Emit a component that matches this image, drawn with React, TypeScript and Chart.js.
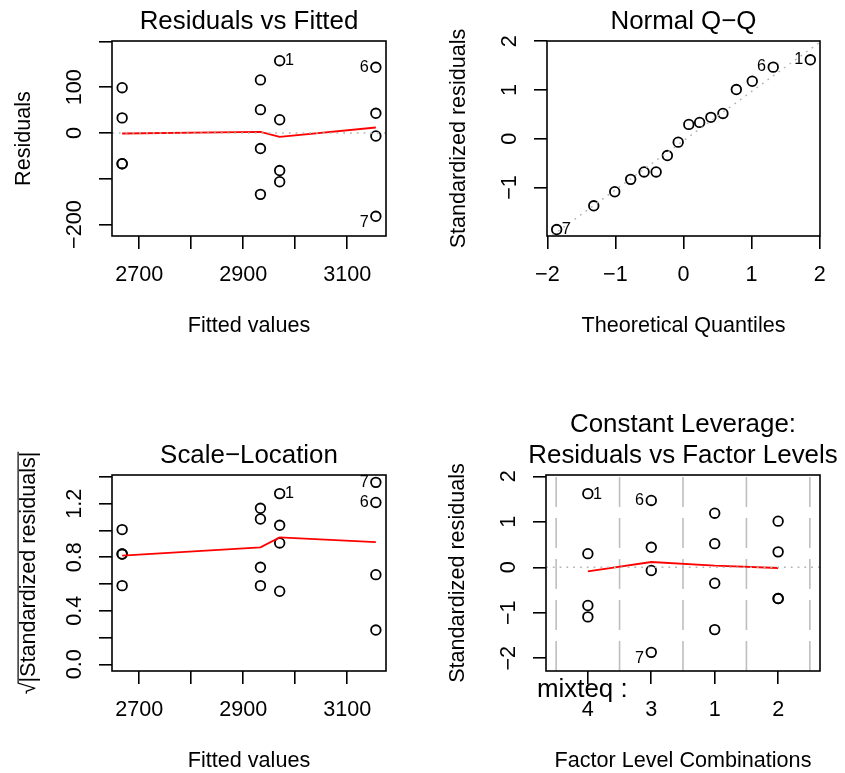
import React, { useEffect, useRef } from "react";
import { Chart, registerables } from "chart.js";

Chart.register(...registerables);

const FONT = "'Liberation Sans', Arial, Helvetica, sans-serif";
const AXIS_PX = 21.6;
const TITLE_PX = 25.9;
const ID_PX = 16.2;
const M = "\u2212";

// ---------------- data ----------------
// 16 observations, 4 per level of the factor "mixteq"
const fittedValues = [2970, 2970, 2970, 2970, 3155, 3155, 3155, 3155, 2933, 2933, 2933, 2933, 2667, 2667, 2667, 2667];
const residuals = [158, 29, -82, -106.5, 143.5, 43, -6.5, -182, 116, 51, -34, -134, 99, 33, -67, -67];
const stdResiduals = [1.62, 0.3, -0.84, -1.09, 1.47, 0.44, -0.07, -1.87, 1.19, 0.52, -0.35, -1.37, 1.015, 0.34, -0.687, -0.687];
const sqrtAbsStdResiduals = [1.276, 0.546, 0.907, 1.039, 1.21, 0.67, 0.256, 1.36, 1.086, 0.725, 0.588, 1.166, 1.007, 0.588, 0.824, 0.824];
const factorPosition = [0, 0, 0, 0, 1, 1, 1, 1, 2, 2, 2, 2, 3, 3, 3, 3];
const obsLabels = ["1", "", "", "", "6", "", "", "7", "", "", "", "", "", "", "", ""];

const factorLevels = ["4", "3", "1", "2"];
const levelBoundaries = [-0.5, 0.5, 1.5, 2.5, 3.5];

const qqTheoretical = [-1.863, -1.318, -1.01, -0.776, -0.579, -0.402, -0.237, -0.078, 0.078, 0.237, 0.402, 0.579, 0.776, 1.01, 1.318, 1.863];
const qqSample = [-1.862, -1.375, -1.086, -0.832, -0.68, -0.68, -0.344, -0.069, 0.295, 0.336, 0.44, 0.52, 1.01, 1.18, 1.47, 1.62];
const qqLabels = ["7", "", "", "", "", "", "", "", "", "", "", "", "", "", "6", "1"];
const qqLineX = [-2.005, 2.01];
const qqLineY = [-2.06, 1.989];

const smoothX = [2667, 2933, 2970, 3155];
const residSmoothY = [-1.1, 2.6, -8.3, 12.0];
const scaleSmoothY = [0.812, 0.874, 0.949, 0.914];
const factorSmoothX = [0, 1, 2, 3];
const factorSmoothY = [-0.088, 0.117, 0.035, -0.015];

const fittedTicks = [2700, 2800, 2900, 3000, 3100];
const fittedTickLabels = ["2700", "", "2900", "", "3100"];
const residTicks = [-200, -100, 0, 100, 200];
const residTickLabels = [M + "200", "", "0", "100", ""];
const qqXTicks = [-2, -1, 0, 1, 2];
const qqXTickLabels = [M + "2", M + "1", "0", "1", "2"];
const qqYTicks = [-1, 0, 1, 2];
const qqYTickLabels = [M + "1", "0", "1", "2"];
const slTicks = [0, 0.2, 0.4, 0.6, 0.8, 1.0, 1.2, 1.4];
const slTickLabels = ["0.0", "", "0.4", "", "0.8", "", "1.2", ""];
const flYTicks = [-2, -1, 0, 1, 2];
const flYTickLabels = [M + "2", M + "1", "0", "1", "2"];
const flXTicks = [0, 1, 2, 3];

// ---------------- panel construction ----------------
type LabelStyle = { [k: string]: { side: "left" | "right"; dy: number } };

type Panel = {
  left: number; top: number; w: number; h: number;
  box: [number, number, number, number];
  xMin: number; xMax: number; yMin: number; yMax: number;
  xTicks: number[]; xTickLabels: string[];
  yTicks: number[]; yTickLabels: string[];
  title: string[]; xTitle: string; yTitle: string; sqrtTitle?: boolean;
  datasets: any[];
  pointsIndex: number;
  labels: string[];
  labelStyle: LabelStyle;
  factorName?: string;
};

const pts = (xs: number[], ys: number[]) => xs.map((x, i) => ({ x, y: ys[i] }));

const pointsDs = (xs: number[], ys: number[]) => ({
  data: pts(xs, ys),
  showLine: false,
  pointStyle: "circle",
  pointRadius: 4.8,
  pointHoverRadius: 4.8,
  pointBorderWidth: 1.8,
  pointBorderColor: "#000",
  pointBackgroundColor: "rgba(0,0,0,0)",
});
const redDs = (xs: number[], ys: number[]) => ({
  data: pts(xs, ys),
  showLine: true,
  borderColor: "#ff0000",
  borderWidth: 1.8,
  pointRadius: 0,
  tension: 0,
  fill: false,
});
const dottedDs = (xs: number[], ys: number[]) => ({
  data: pts(xs, ys),
  showLine: true,
  borderColor: "#b4b4b4",
  borderWidth: 1.4,
  borderDash: [1.8, 5],
  pointRadius: 0,
  tension: 0,
  fill: false,
});
const vDashDs = (x: number, y0: number, y1: number) => ({
  data: [{ x, y: y0 }, { x, y: y1 }],
  showLine: true,
  borderColor: "#bebebe",
  borderWidth: 1.6,
  borderDash: [30, 11],
  pointRadius: 0,
  tension: 0,
  fill: false,
});

const P1: Panel = {
  left: 0, top: 0, w: 422, h: 386,
  box: [112, 41, 386, 236],
  xMin: 2647.5, xMax: 3174.5, yMin: -225, yMax: 201,
  xTicks: fittedTicks, xTickLabels: fittedTickLabels,
  yTicks: residTicks, yTickLabels: residTickLabels,
  title: ["Residuals vs Fitted"], xTitle: "Fitted values", yTitle: "Residuals",
  datasets: [
    dottedDs([2647.5, 3174.5], [0, 0]),
    redDs(smoothX, residSmoothY),
    pointsDs(fittedValues, residuals),
  ],
  pointsIndex: 2,
  labels: obsLabels,
  labelStyle: { "1": { side: "right", dy: -1 }, "6": { side: "left", dy: -1 }, "7": { side: "left", dy: 5 } },
};

const P2: Panel = {
  left: 422, top: 0, w: 423, h: 386,
  box: [125, 41, 398, 236],
  xMin: -2.005, xMax: 2.005, yMin: -1.994, yMax: 2.006,
  xTicks: qqXTicks, xTickLabels: qqXTickLabels,
  yTicks: qqYTicks, yTickLabels: qqYTickLabels,
  title: ["Normal Q" + M + "Q"], xTitle: "Theoretical Quantiles", yTitle: "Standardized residuals",
  datasets: [
    dottedDs(qqLineX, qqLineY),
    pointsDs(qqTheoretical, qqSample),
  ],
  pointsIndex: 1,
  labels: qqLabels,
  labelStyle: { "7": { side: "right", dy: -1.6 }, "6": { side: "left", dy: -2 }, "1": { side: "left", dy: -1.3 } },
};

const P3: Panel = {
  left: 0, top: 386, w: 422, h: 387,
  box: [112, 89, 386, 285],
  xMin: 2647.5, xMax: 3174.5, yMin: -0.05, yMax: 1.415,
  xTicks: fittedTicks, xTickLabels: fittedTickLabels,
  yTicks: slTicks, yTickLabels: slTickLabels,
  title: ["Scale" + M + "Location"], xTitle: "Fitted values", yTitle: "|Standardized residuals|", sqrtTitle: true,
  datasets: [
    redDs(smoothX, scaleSmoothY),
    pointsDs(fittedValues, sqrtAbsStdResiduals),
  ],
  pointsIndex: 1,
  labels: obsLabels,
  labelStyle: { "1": { side: "right", dy: -1 }, "7": { side: "left", dy: -1 }, "6": { side: "left", dy: -1.3 } },
};

const P4: Panel = {
  left: 422, top: 386, w: 423, h: 387,
  box: [124, 89, 398, 285],
  xMin: -0.66, xMax: 3.66, yMin: -2.28, yMax: 2.03,
  xTicks: flXTicks, xTickLabels: factorLevels,
  yTicks: flYTicks, yTickLabels: flYTickLabels,
  title: ["Constant Leverage:", "Residuals vs Factor Levels"], xTitle: "Factor Level Combinations", yTitle: "Standardized residuals",
  datasets: [
    dottedDs([-0.66, 3.66], [0, 0]),
    redDs(factorSmoothX, factorSmoothY),
    ...levelBoundaries.map((b) => vDashDs(b, -2.28, 2.03)),
    pointsDs(factorPosition, stdResiduals),
  ],
  pointsIndex: 2 + levelBoundaries.length,
  labels: obsLabels,
  labelStyle: { "1": { side: "right", dy: -0.4 }, "6": { side: "left", dy: -1.3 }, "7": { side: "left", dy: 5 } },
  factorName: "mixteq :",
};

const panels = [P1, P2, P3, P4];

function makeDecor(p: Panel) {
  return {
    id: "decor",
    afterDraw(chart: any) {
      const ctx = chart.ctx as CanvasRenderingContext2D;
      const a = chart.chartArea;
      const ys = chart.scales.y;
      const cx = (a.left + a.right) / 2;
      const cy = (a.top + a.bottom) / 2;
      ctx.save();
      // plot box
      ctx.strokeStyle = "#000";
      ctx.lineWidth = 1.6;
      ctx.strokeRect(a.left, a.top, a.right - a.left, a.bottom - a.top);
      ctx.fillStyle = "#000";
      // caption
      ctx.font = `${TITLE_PX}px ${FONT}`;
      ctx.textAlign = "center";
      ctx.textBaseline = "alphabetic";
      const n = p.title.length;
      p.title.forEach((line, i) => {
        ctx.fillText(line, cx, a.top - 12.3 - (n - 1 - i) * 30.4);
      });
      // x title
      ctx.font = `${AXIS_PX}px ${FONT}`;
      ctx.fillText(p.xTitle, cx, a.bottom + 96);
      // y tick labels (rotated, R style)
      p.yTicks.forEach((v, i) => {
        const lab = p.yTickLabels[i];
        if (!lab) return;
        const py = ys.getPixelForValue(v);
        ctx.save();
        ctx.translate(a.left - 31, py);
        ctx.rotate(-Math.PI / 2);
        ctx.textAlign = "center";
        ctx.fillText(lab, 0, 0);
        ctx.restore();
      });
      // y title
      if (p.sqrtTitle) {
        ctx.save();
        ctx.translate(a.left - 77.5, cy);
        ctx.rotate(-Math.PI / 2);
        const full = "\u221A" + p.yTitle;
        const w = ctx.measureText(full).width;
        const rm = ctx.measureText("\u221A");
        ctx.textAlign = "left";
        ctx.fillText(full, -w / 2, 0);
        const asc = rm.actualBoundingBoxAscent || 16;
        ctx.beginPath();
        ctx.lineWidth = 1.2;
        ctx.moveTo(-w / 2 + rm.width - 1, -asc + 0.6);
        ctx.lineTo(w / 2, -asc + 0.6);
        ctx.stroke();
        ctx.restore();
      } else {
        ctx.save();
        ctx.translate(a.left - 82, cy);
        ctx.rotate(-Math.PI / 2);
        ctx.textAlign = "center";
        ctx.fillText(p.yTitle, 0, 0);
        ctx.restore();
      }
      // factor name under the axis
      if (p.factorName) {
        ctx.font = `${TITLE_PX}px ${FONT}`;
        ctx.textAlign = "left";
        ctx.fillText(p.factorName, a.left - 9, a.bottom + 25.8);
      }
      // point id labels
      ctx.font = `${ID_PX}px ${FONT}`;
      const meta = chart.getDatasetMeta(p.pointsIndex);
      p.labels.forEach((lab, i) => {
        if (!lab) return;
        const el = meta.data[i];
        if (!el) return;
        const st = p.labelStyle[lab] || { side: "right", dy: 0 };
        const y = el.y + st.dy + 5.8;
        if (st.side === "right") {
          ctx.textAlign = "left";
          ctx.fillText(lab, el.x + 5.2, y);
        } else {
          ctx.textAlign = "right";
          ctx.fillText(lab, el.x - 7.2, y);
        }
      });
      ctx.restore();
    },
  };
}

function buildConfig(p: Panel): any {
  const [l, t, r, b] = p.box;
  const YW = 30;
  const XH = 64;
  return {
    type: "scatter",
    data: { datasets: p.datasets },
    options: {
      responsive: false,
      maintainAspectRatio: false,
      devicePixelRatio: 1,
      animation: false,
      events: [],
      layout: { padding: { left: l - YW, top: t, right: p.w - r, bottom: p.h - b - XH } },
      plugins: { legend: { display: false }, tooltip: { enabled: false }, title: { display: false } },
      scales: {
        x: {
          type: "linear",
          min: p.xMin,
          max: p.xMax,
          bounds: "data",
          afterBuildTicks: (s: any) => {
            s.ticks = p.xTicks.map((v) => ({ value: v }));
          },
          afterFit: (s: any) => {
            s.height = XH;
            s.paddingLeft = 0;
            s.paddingRight = 0;
          },
          ticks: {
            display: true,
            autoSkip: false,
            maxRotation: 0,
            minRotation: 0,
            padding: 13,
            color: "#000",
            font: { family: FONT, size: AXIS_PX },
            callback: (_v: any, i: number) => p.xTickLabels[i] ?? "",
          },
          grid: { display: true, drawOnChartArea: false, drawTicks: true, tickLength: 13, color: "#000", lineWidth: 1.6 },
          border: { display: false },
        },
        y: {
          type: "linear",
          min: p.yMin,
          max: p.yMax,
          bounds: "data",
          afterBuildTicks: (s: any) => {
            s.ticks = p.yTicks.map((v) => ({ value: v }));
          },
          afterFit: (s: any) => {
            s.width = YW;
            s.paddingTop = 0;
            s.paddingBottom = 0;
          },
          ticks: { display: false },
          grid: { display: true, drawOnChartArea: false, drawTicks: true, tickLength: 13, color: "#000", lineWidth: 1.6 },
          border: { display: false },
        },
      },
    },
    plugins: [makeDecor(p)],
  };
}

function PanelChart({ p }: { p: Panel }) {
  const ref = useRef<HTMLCanvasElement>(null);
  useEffect(() => {
    if (!ref.current) return;
    const chart = new Chart(ref.current, buildConfig(p));
    return () => chart.destroy();
  }, [p]);
  return (
    <canvas
      ref={ref}
      width={p.w}
      height={p.h}
      style={{ position: "absolute", left: p.left, top: p.top, width: p.w, height: p.h }}
    />
  );
}

export default function App() {
  return (
    <div style={{ position: "fixed", left: 0, top: 0, width: 845, height: 773, background: "#fff", overflow: "hidden" }}>
      {panels.map((p, i) => (
        <PanelChart key={i} p={p} />
      ))}
    </div>
  );
}
